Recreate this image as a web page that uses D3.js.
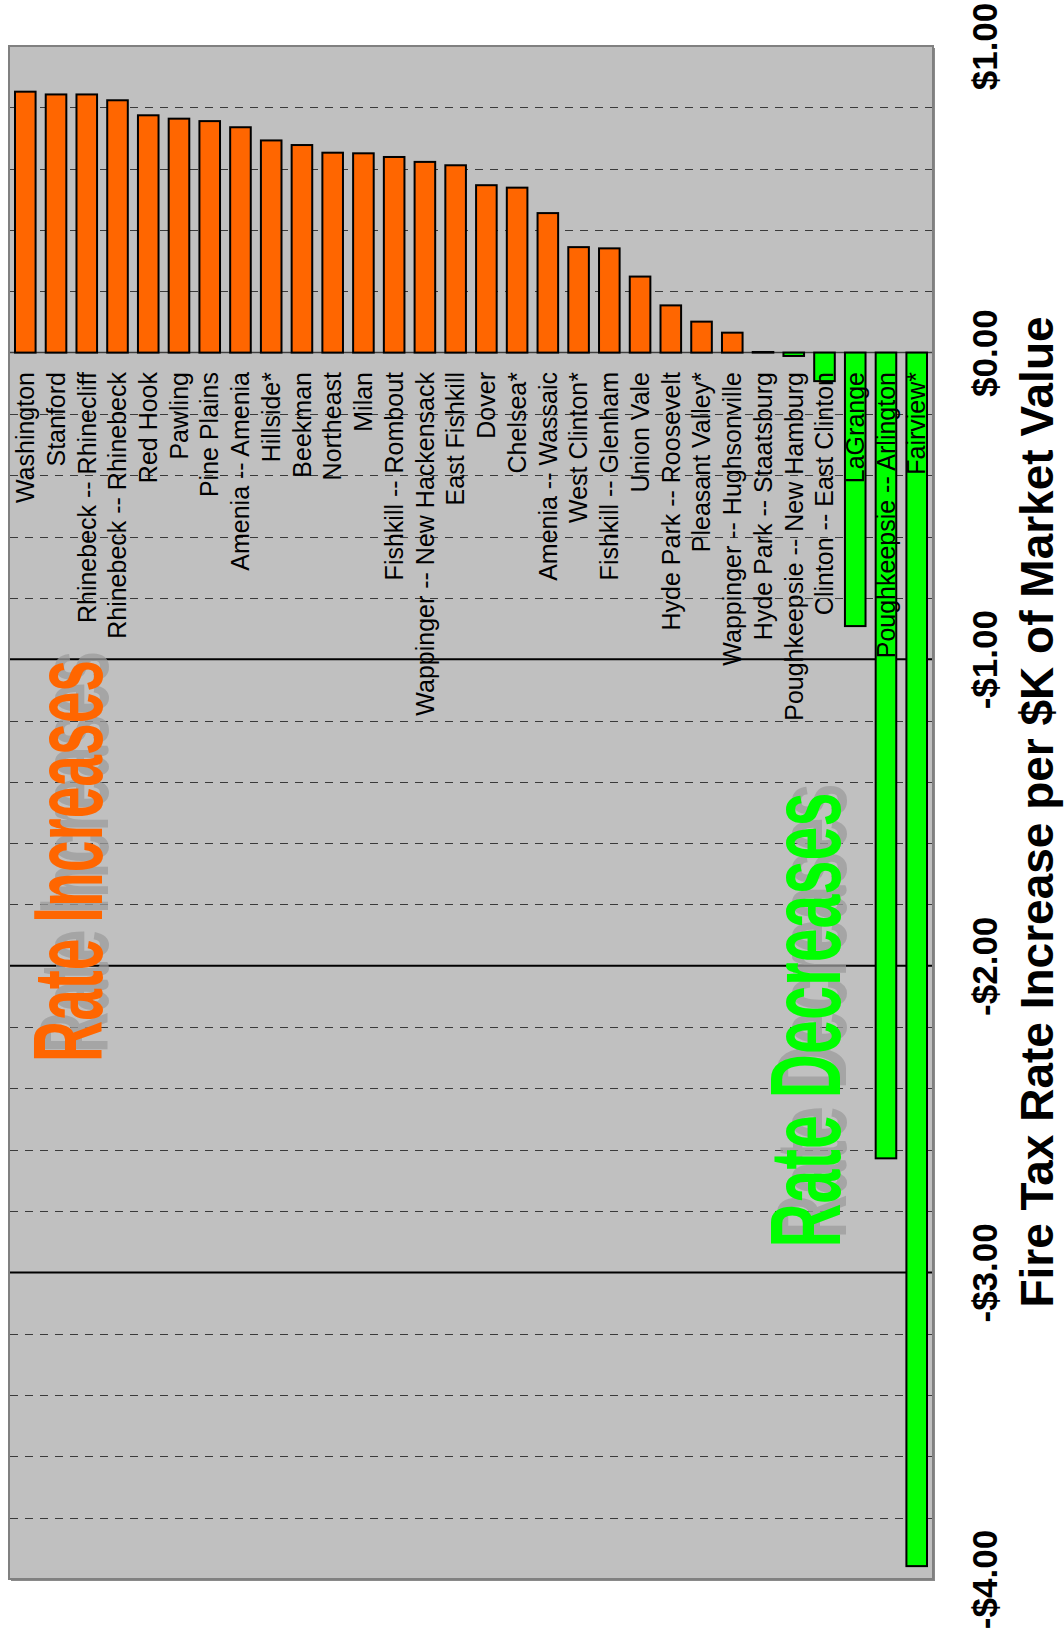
<!DOCTYPE html>
<html>
<head>
<meta charset="utf-8">
<script src="https://cdn.jsdelivr.net/npm/d3@7"></script>
<style>
  html, body { margin: 0; padding: 0; background: #ffffff; }
  svg { display: block; font-family: "Liberation Sans", Arial, Helvetica, sans-serif; }
</style>
</head>
<body>
<svg id="chart" width="1064" height="1637"></svg>
<script>
// Fire district tax rate change per $1,000 of market value
const categories = [
  "Washington", "Stanford", "Rhinebeck -- Rhinecliff", "Rhinebeck -- Rhinebeck",
  "Red Hook", "Pawling", "Pine Plains", "Amenia -- Amenia", "Hillside*", "Beekman",
  "Northeast", "Milan", "Fishkill -- Rombout", "Wappinger -- New Hackensack",
  "East Fishkill", "Dover", "Chelsea*", "Amenia -- Wassaic", "West Clinton*",
  "Fishkill -- Glenham", "Union Vale", "Hyde Park -- Roosevelt", "Pleasant Valley*",
  "Wappinger -- Hughsonville", "Hyde Park -- Staatsburg", "Poughkeepsie -- New Hamburg",
  "Clinton -- East Clinton", "LaGrange", "Poughkeepsie -- Arlington", "Fairview*"
];
const values = [
  0.851, 0.842, 0.842, 0.823, 0.774, 0.763, 0.755, 0.735, 0.692, 0.677,
  0.652, 0.650, 0.638, 0.622, 0.611, 0.546, 0.538, 0.455, 0.344, 0.340,
  0.248, 0.154, 0.101, 0.065, 0.002, -0.011, -0.093, -0.892, -2.628, -3.958
];
const tickValues = [1, 0, -1, -2, -3, -4];
const majorGrid = [-1, -2, -3];
const axisTitle = "Fire Tax Rate Increase per $K of Market Value";
const increaseNote = "Rate Increases";
const decreaseNote = "Rate Decreases";

const svg = d3.select("#chart");
const plot = { left: 9, right: 933, top: 46, bottom: 1579 };

const x = d3.scaleBand()
  .domain(categories)
  .range([plot.left, plot.right])
  .paddingInner(0.33)
  .paddingOuter(0.195);

const y = d3.scaleLinear()
  .domain([-4, 1])
  .range([plot.bottom, plot.top]);

// plot area with drop shadow
svg.append("rect")
  .attr("x", plot.left + 2).attr("y", plot.top + 2)
  .attr("width", plot.right - plot.left).attr("height", plot.bottom - plot.top)
  .attr("fill", "#8a8a8a");
svg.append("rect")
  .attr("x", plot.left).attr("y", plot.top)
  .attr("width", plot.right - plot.left).attr("height", plot.bottom - plot.top)
  .attr("fill", "#c0c0c0")
  .attr("stroke", "#808080").attr("stroke-width", 2);

// minor dashed gridlines every 0.2
const minorGrid = d3.range(-19, 5).map(i => i / 5)
  .filter(v => Math.abs(v) > 1e-9 && !majorGrid.some(m => Math.abs(m - v) < 1e-9));
svg.append("g").selectAll("line").data(minorGrid).join("line")
  .attr("x1", plot.left + 1).attr("x2", plot.right - 1)
  .attr("y1", d => Math.round(y(d)) + 0.5).attr("y2", d => Math.round(y(d)) + 0.5)
  .attr("stroke", "#3a3a3a").attr("stroke-width", 1.2)
  .attr("stroke-dasharray", "8,7");

// major solid gridlines
svg.append("g").selectAll("line").data(majorGrid).join("line")
  .attr("x1", plot.left + 1).attr("x2", plot.right - 1)
  .attr("y1", d => y(d)).attr("y2", d => y(d))
  .attr("stroke", "#000").attr("stroke-width", 2);

// zero line
svg.append("line")
  .attr("x1", plot.left + 1).attr("x2", plot.right - 1)
  .attr("y1", y(0)).attr("y2", y(0))
  .attr("stroke", "#404040").attr("stroke-width", 1.5);

// large annotations with soft gray shadow
function note(text, color, cx, cy, size, len) {
  const g = svg.append("g");
  g.append("text")
    .attr("transform", `translate(${cx + 6},${cy - 9}) rotate(-90)`)
    .attr("text-anchor", "middle")
    .attr("font-weight", "bold").attr("font-size", size)
    .attr("textLength", len).attr("lengthAdjust", "spacingAndGlyphs")
    .attr("fill", "#9c9c9c").attr("fill-opacity", 0.75)
    .text(text);
  g.append("text")
    .attr("transform", `translate(${cx},${cy}) rotate(-90)`)
    .attr("text-anchor", "middle")
    .attr("font-weight", "bold").attr("font-size", size)
    .attr("textLength", len).attr("lengthAdjust", "spacingAndGlyphs")
    .attr("fill", color)
    .text(text);
}
note(increaseNote, "#ff6600", 102, 861, 98, 402);
note(decreaseNote, "#00ff00", 840, 1020, 100, 455);

// bars
svg.append("g").selectAll("rect").data(categories).join("rect")
  .attr("x", d => x(d))
  .attr("width", x.bandwidth())
  .attr("y", (d, i) => y(Math.max(0, values[i])))
  .attr("height", (d, i) => Math.abs(y(values[i]) - y(0)))
  .attr("fill", (d, i) => values[i] >= 0 ? "#ff6600" : "#00ff00")
  .attr("stroke", "#000").attr("stroke-width", 2);

// category labels
svg.append("g").selectAll("text").data(categories).join("text")
  .attr("transform", d => `translate(${x(d) + x.bandwidth() / 2},372) rotate(-90)`)
  .attr("text-anchor", "end")
  .attr("dy", "0.35em")
  .attr("font-size", 25)
  .attr("fill", "#000")
  .text(d => d);

// value axis on the right
const fmt = d => (d < 0 ? "-" : "") + "$" + Math.abs(d).toFixed(2);
const axis = svg.append("g")
  .attr("transform", "translate(997,0)")
  .call(d3.axisRight(y).tickValues(tickValues).tickSize(0).tickFormat(fmt));
axis.select(".domain").remove();
axis.selectAll("text")
  .attr("x", 0).attr("y", 0).attr("dy", 0)
  .attr("transform", "rotate(-90)")
  .attr("text-anchor", "middle")
  .attr("font-family", "'Liberation Sans', Arial, sans-serif")
  .attr("font-weight", "bold")
  .attr("font-size", 35)
  .attr("fill", "#000");

// axis title
svg.append("text")
  .attr("transform", "translate(1053,812) rotate(-90)")
  .attr("text-anchor", "middle")
  .attr("font-weight", "bold")
  .attr("font-size", 46)
  .attr("fill", "#000")
  .text(axisTitle);
</script>
</body>
</html>
